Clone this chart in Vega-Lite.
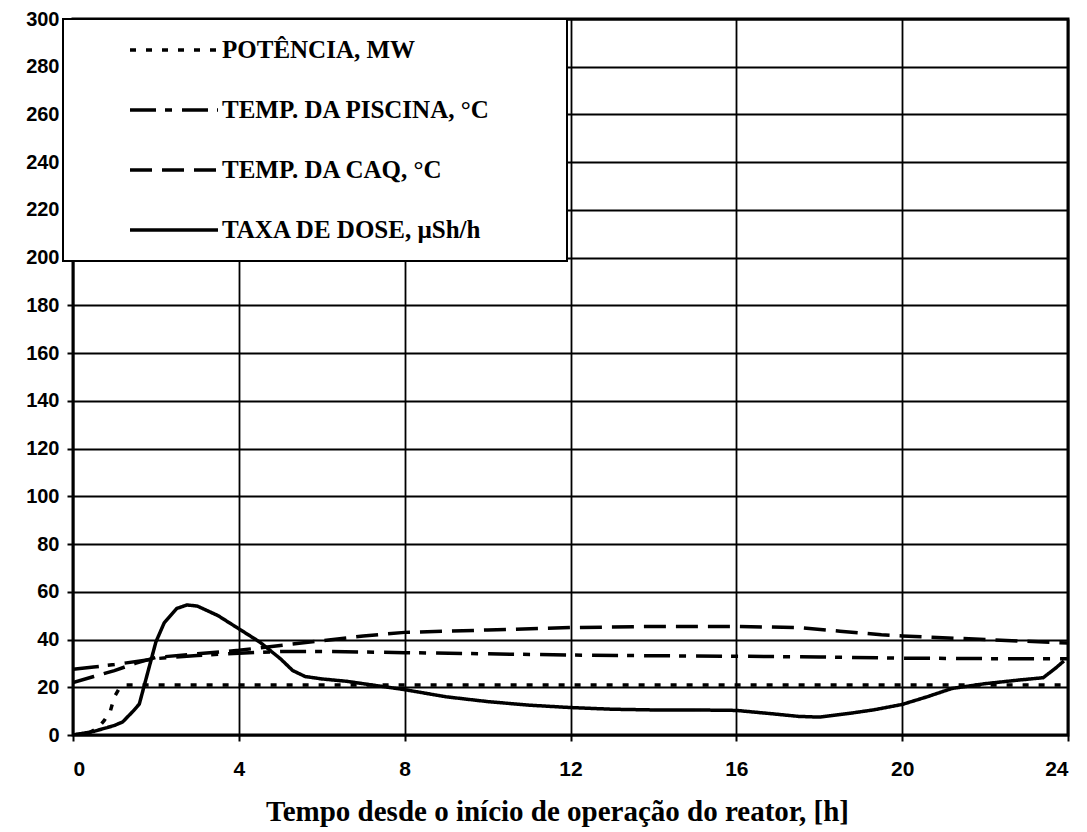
{
  "$schema": "https://vega.github.io/schema/vega-lite/v6.json",
  "width": 995,
  "height": 716,
  "autosize": {"type": "none"},
  "padding": {"left": 73, "top": 19, "right": 19, "bottom": 97},
  "background": "white",
  "config": {
    "view": {"stroke": "black", "strokeWidth": 3},
    "axis": {
      "domain": false,
      "grid": true,
      "gridColor": "black",
      "gridOpacity": 1,
      "gridWidth": 1.8,
      "tickColor": "black",
      "tickWidth": 2,
      "tickSize": 6,
      "labelColor": "black",
      "labelFont": "Liberation Sans",
      "labelFontWeight": "bold"
    }
  },
  "data": {
    "values": [
      {"series": "POTÊNCIA, MW", "t": 0, "v": 0},
      {"series": "POTÊNCIA, MW", "t": 0.4, "v": 1},
      {"series": "POTÊNCIA, MW", "t": 0.6, "v": 3},
      {"series": "POTÊNCIA, MW", "t": 0.75, "v": 6},
      {"series": "POTÊNCIA, MW", "t": 0.9, "v": 10},
      {"series": "POTÊNCIA, MW", "t": 1.0, "v": 16},
      {"series": "POTÊNCIA, MW", "t": 1.1, "v": 19},
      {"series": "POTÊNCIA, MW", "t": 1.25, "v": 21},
      {"series": "POTÊNCIA, MW", "t": 24, "v": 21},

      {"series": "TEMP. DA PISCINA, °C", "t": 0, "v": 27.5},
      {"series": "TEMP. DA PISCINA, °C", "t": 0.5, "v": 28.5},
      {"series": "TEMP. DA PISCINA, °C", "t": 1, "v": 29.5},
      {"series": "TEMP. DA PISCINA, °C", "t": 2, "v": 32},
      {"series": "TEMP. DA PISCINA, °C", "t": 3, "v": 33.3},
      {"series": "TEMP. DA PISCINA, °C", "t": 4, "v": 34.3},
      {"series": "TEMP. DA PISCINA, °C", "t": 5, "v": 35},
      {"series": "TEMP. DA PISCINA, °C", "t": 6, "v": 35},
      {"series": "TEMP. DA PISCINA, °C", "t": 8, "v": 34.5},
      {"series": "TEMP. DA PISCINA, °C", "t": 10, "v": 34},
      {"series": "TEMP. DA PISCINA, °C", "t": 12, "v": 33.5},
      {"series": "TEMP. DA PISCINA, °C", "t": 14, "v": 33.2},
      {"series": "TEMP. DA PISCINA, °C", "t": 16, "v": 33},
      {"series": "TEMP. DA PISCINA, °C", "t": 18, "v": 32.7},
      {"series": "TEMP. DA PISCINA, °C", "t": 20, "v": 32.2},
      {"series": "TEMP. DA PISCINA, °C", "t": 22, "v": 32},
      {"series": "TEMP. DA PISCINA, °C", "t": 24, "v": 32},

      {"series": "TEMP. DA CAQ, °C", "t": 0, "v": 22},
      {"series": "TEMP. DA CAQ, °C", "t": 0.5, "v": 24.5},
      {"series": "TEMP. DA CAQ, °C", "t": 1, "v": 27},
      {"series": "TEMP. DA CAQ, °C", "t": 1.5, "v": 30},
      {"series": "TEMP. DA CAQ, °C", "t": 2, "v": 32.5},
      {"series": "TEMP. DA CAQ, °C", "t": 3, "v": 34},
      {"series": "TEMP. DA CAQ, °C", "t": 4, "v": 35.5},
      {"series": "TEMP. DA CAQ, °C", "t": 5, "v": 37.5},
      {"series": "TEMP. DA CAQ, °C", "t": 6, "v": 39.5},
      {"series": "TEMP. DA CAQ, °C", "t": 7, "v": 41.5},
      {"series": "TEMP. DA CAQ, °C", "t": 8, "v": 43},
      {"series": "TEMP. DA CAQ, °C", "t": 10, "v": 44},
      {"series": "TEMP. DA CAQ, °C", "t": 12, "v": 45},
      {"series": "TEMP. DA CAQ, °C", "t": 14, "v": 45.5},
      {"series": "TEMP. DA CAQ, °C", "t": 16, "v": 45.5},
      {"series": "TEMP. DA CAQ, °C", "t": 17.5, "v": 45},
      {"series": "TEMP. DA CAQ, °C", "t": 18.5, "v": 43.5},
      {"series": "TEMP. DA CAQ, °C", "t": 19.5, "v": 42},
      {"series": "TEMP. DA CAQ, °C", "t": 20, "v": 41.5},
      {"series": "TEMP. DA CAQ, °C", "t": 22, "v": 40},
      {"series": "TEMP. DA CAQ, °C", "t": 24, "v": 38.5},

      {"series": "TAXA DE DOSE, µSh/h", "t": 0, "v": 0},
      {"series": "TAXA DE DOSE, µSh/h", "t": 0.5, "v": 1.5},
      {"series": "TAXA DE DOSE, µSh/h", "t": 1.0, "v": 4},
      {"series": "TAXA DE DOSE, µSh/h", "t": 1.2, "v": 5.5},
      {"series": "TAXA DE DOSE, µSh/h", "t": 1.45, "v": 10},
      {"series": "TAXA DE DOSE, µSh/h", "t": 1.6, "v": 13},
      {"series": "TAXA DE DOSE, µSh/h", "t": 1.8, "v": 26},
      {"series": "TAXA DE DOSE, µSh/h", "t": 2.0, "v": 39},
      {"series": "TAXA DE DOSE, µSh/h", "t": 2.2, "v": 47},
      {"series": "TAXA DE DOSE, µSh/h", "t": 2.5, "v": 53},
      {"series": "TAXA DE DOSE, µSh/h", "t": 2.75, "v": 54.5},
      {"series": "TAXA DE DOSE, µSh/h", "t": 3.0, "v": 54},
      {"series": "TAXA DE DOSE, µSh/h", "t": 3.5, "v": 50},
      {"series": "TAXA DE DOSE, µSh/h", "t": 4.0, "v": 44.5},
      {"series": "TAXA DE DOSE, µSh/h", "t": 4.5, "v": 39},
      {"series": "TAXA DE DOSE, µSh/h", "t": 5.0, "v": 32},
      {"series": "TAXA DE DOSE, µSh/h", "t": 5.3, "v": 27},
      {"series": "TAXA DE DOSE, µSh/h", "t": 5.6, "v": 24.5},
      {"series": "TAXA DE DOSE, µSh/h", "t": 6.0, "v": 23.5},
      {"series": "TAXA DE DOSE, µSh/h", "t": 6.6, "v": 22.5},
      {"series": "TAXA DE DOSE, µSh/h", "t": 7.2, "v": 21},
      {"series": "TAXA DE DOSE, µSh/h", "t": 8.0, "v": 19},
      {"series": "TAXA DE DOSE, µSh/h", "t": 9.0, "v": 16},
      {"series": "TAXA DE DOSE, µSh/h", "t": 10, "v": 14},
      {"series": "TAXA DE DOSE, µSh/h", "t": 11, "v": 12.5},
      {"series": "TAXA DE DOSE, µSh/h", "t": 12, "v": 11.5},
      {"series": "TAXA DE DOSE, µSh/h", "t": 13, "v": 10.8},
      {"series": "TAXA DE DOSE, µSh/h", "t": 14, "v": 10.5},
      {"series": "TAXA DE DOSE, µSh/h", "t": 15, "v": 10.5},
      {"series": "TAXA DE DOSE, µSh/h", "t": 16, "v": 10.3},
      {"series": "TAXA DE DOSE, µSh/h", "t": 16.8, "v": 9},
      {"series": "TAXA DE DOSE, µSh/h", "t": 17.5, "v": 7.8},
      {"series": "TAXA DE DOSE, µSh/h", "t": 18, "v": 7.5},
      {"series": "TAXA DE DOSE, µSh/h", "t": 18.7, "v": 9},
      {"series": "TAXA DE DOSE, µSh/h", "t": 19.3, "v": 10.5},
      {"series": "TAXA DE DOSE, µSh/h", "t": 20, "v": 12.8},
      {"series": "TAXA DE DOSE, µSh/h", "t": 20.6, "v": 16},
      {"series": "TAXA DE DOSE, µSh/h", "t": 21.2, "v": 19.5},
      {"series": "TAXA DE DOSE, µSh/h", "t": 22, "v": 21.5},
      {"series": "TAXA DE DOSE, µSh/h", "t": 22.8, "v": 23},
      {"series": "TAXA DE DOSE, µSh/h", "t": 23.4, "v": 24},
      {"series": "TAXA DE DOSE, µSh/h", "t": 23.7, "v": 28},
      {"series": "TAXA DE DOSE, µSh/h", "t": 23.9, "v": 31}
    ]
  },
  "mark": {"type": "line", "color": "black", "strokeWidth": 3.5, "strokeCap": "butt", "clip": true},
  "encoding": {
    "x": {
      "field": "t",
      "type": "quantitative",
      "scale": {"domain": [0, 24], "nice": false},
      "axis": {
        "values": [0, 4, 8, 12, 16, 20, 24],
        "labelFontSize": 21,
        "labelPadding": 17,
        "title": "Tempo desde o início de operação  do reator, [h]",
        "titleFont": "Liberation Serif",
        "titleFontWeight": "bold",
        "titleFontSize": 29,
        "titleColor": "black",
        "titlePadding": 18,
        "titleX": 484
      }
    },
    "y": {
      "field": "v",
      "type": "quantitative",
      "scale": {"domain": [0, 300], "nice": false},
      "axis": {
        "values": [0, 20, 40, 60, 80, 100, 120, 140, 160, 180, 200, 220, 240, 260, 280, 300],
        "labelFontSize": 20,
        "labelPadding": 8,
        "title": null
      }
    },
    "strokeDash": {
      "field": "series",
      "type": "nominal",
      "scale": {
        "domain": ["POTÊNCIA, MW", "TEMP. DA PISCINA, °C", "TEMP. DA CAQ, °C", "TAXA DE DOSE, µSh/h"],
        "range": [[6, 10], [26, 9, 7, 10], [22, 10], [1, 0]]
      },
      "legend": {
        "title": "\u00a0",
        "titleOrient": "right",
        "titlePadding": 59,
        "titleFontSize": 10,
        "orient": "none",
        "legendX": -10,
        "legendY": 0,
        "fillColor": "white",
        "strokeColor": "black",
        "padding": 18,
        "symbolType": "M-4,0H4",
        "symbolSize": 484,
        "symbolStrokeColor": "black",
        "symbolStrokeWidth": 3.5,
        "symbolOffset": 80,
        "labelFont": "Liberation Serif",
        "labelFontWeight": "bold",
        "labelFontSize": 25,
        "labelColor": "black",
        "labelOffset": 35,
        "labelLimit": 500,
        "rowPadding": 34,
        "encode": {"legend": {"update": {"strokeWidth": {"value": 2}}}}
      }
    }
  }
}
